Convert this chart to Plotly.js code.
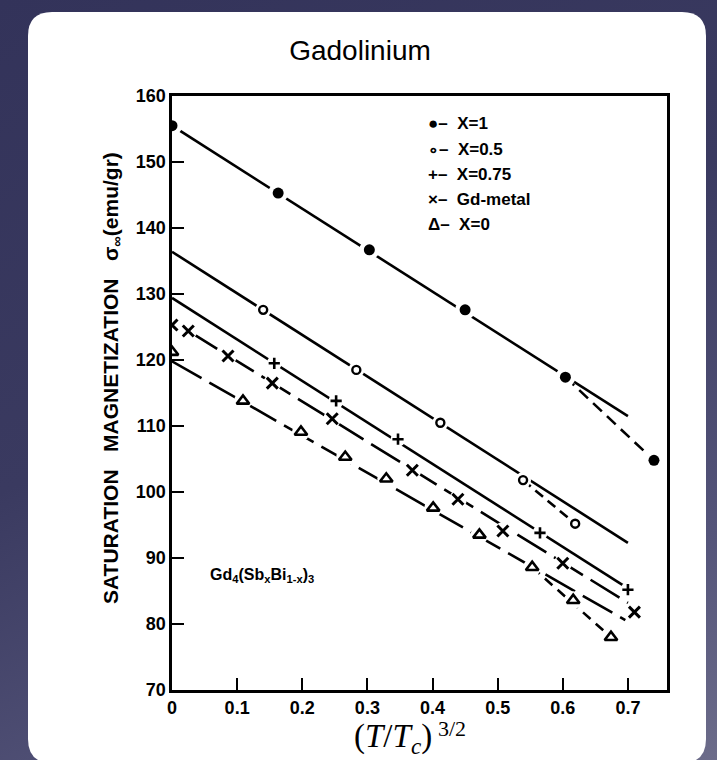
<!DOCTYPE html>
<html>
<head>
<meta charset="utf-8">
<script src="https://cdn.plot.ly/plotly-3.0.1.min.js"></script>
<style>
  html, body { margin: 0; padding: 0; }
  body { width: 717px; height: 760px; overflow: hidden;
         background: linear-gradient(155deg, #33335a 0%, #3a3a60 45%, #55557a 80%, #6c6c8a 100%); }
  #chart { width: 717px; height: 760px; }
</style>
</head>
<body>
<div id="chart"></div>
<script>
// ---- data ----
const xX1 = [0, 0.163, 0.303, 0.45, 0.604, 0.74];
const yX1 = [155.5, 145.3, 136.7, 127.6, 117.4, 104.8];

const xX05 = [0.14, 0.283, 0.412, 0.539, 0.619];
const yX05 = [127.6, 118.5, 110.5, 101.8, 95.2];

const xX075 = [0.157, 0.252, 0.347, 0.565, 0.70];
const yX075 = [119.5, 113.8, 108.0, 93.8, 85.2];

const xGd = [0, 0.025, 0.086, 0.154, 0.246, 0.369, 0.439, 0.508, 0.60, 0.71];
const yGd = [125.3, 124.4, 120.6, 116.5, 111.1, 103.3, 98.9, 94.1, 89.2, 81.8];

const xX0 = [0, 0.109, 0.198, 0.266, 0.329, 0.401, 0.472, 0.553, 0.616, 0.674];
const yX0 = [121.2, 113.8, 109.1, 105.3, 102.0, 97.6, 93.5, 88.6, 83.6, 78.0];

// fitted straight lines (end points)
const fitX1x = [0, 0.70],     fitX1y = [155.5, 111.5];
const fitX05x = [0, 0.70],    fitX05y = [136.4, 92.3];
const fitX075x = [0, 0.70],   fitX075y = [129.4, 85.4];
const fitGdx = [0.025, 0.70], fitGdy = [124.4, 83.2];
const fitX0x = [0, 0.696],    fitX0y = [119.8, 80.6];
// dashed high-temperature branches
const dashX1x = [0.604, 0.74],  dashX1y = [117.4, 104.8];
const dashX05x = [0.539, 0.619], dashX05y = [101.8, 95.2];
const dashX0x = [0.553, 0.674], dashX0y = [88.6, 78.0];

const xTickVals = [0, 0.1, 0.2, 0.3, 0.4, 0.5, 0.6, 0.7];
const xTickText = ['0', '0.1', '0.2', '0.3', '0.4', '0.5', '0.6', '0.7'];
const yTickVals = [70, 80, 90, 100, 110, 120, 130, 140, 150, 160];

const legendLabels = ['\u25CF\u2013  X=1', '\u2218\u2013  X=0.5', '+\u2013  X=0.75', '\u00D7\u2013  Gd-metal', '\u0394\u2013  X=0'];
const legendY = [155.9, 151.9, 148.1, 144.3, 140.5];

// ---- traces ----
const LW = 2.6;
function line(x, y, dash) {
  return {x: x, y: y, mode: 'lines', type: 'scatter', hoverinfo: 'skip', showlegend: false,
          line: {color: '#000', width: LW, dash: dash || 'solid'}};
}
function gap(x, y, s) {
  return {x: x, y: y, mode: 'markers', type: 'scatter', hoverinfo: 'skip', showlegend: false,
          marker: {color: '#fff', size: s, line: {width: 0}}};
}
function mk(x, y, symbol, size, lw, fill) {
  return {x: x, y: y, mode: 'markers', type: 'scatter', showlegend: false,
          marker: {symbol: symbol, size: size, color: fill || '#000', line: {color: '#000', width: lw}}};
}

const traces = [
  line(fitX1x, fitX1y), line(dashX1x, dashX1y, '12px,7px'),
  line(fitX05x, fitX05y), line(dashX05x, dashX05y, '10px,6px'),
  line(fitX075x, fitX075y),
  line(fitGdx, fitGdy, '34px,9px'),
  line(fitX0x, fitX0y, '34px,9px'), line(dashX0x, dashX0y, '10px,7px'),
  gap(xX1, yX1, 20), gap(xX05, yX05, 16), gap(xX075, yX075, 15), gap(xGd, yGd, 18), gap(xX0, yX0, 18),
  mk(xX1, yX1, 'circle', 11, 0),
  mk(xX05, yX05, 'circle-open', 8, 2.4),
  mk(xX075, yX075, 'cross-thin-open', 8, 2.6),
  mk(xGd, yGd, 'x-thin-open', 11, 3),
  mk(xX0, yX0, 'triangle-up-open', 11, 2.6)
];

const W = 717, H = 760, ML = 172, MR = 50, MT = 96, MB = 70;
const PW = W - ML - MR, PH = H - MT - MB;
const fx = px => (px - ML) / PW;
const fy = py => (H - MB - py) / PH;
// rounded white panel
const L = 28, R = 706, T = 12, B = 763, rad = 24;
const panelPath = [
  'M', fx(L + rad), fy(T), 'L', fx(R - rad), fy(T),
  'Q', fx(R), fy(T), fx(R), fy(T + rad),
  'L', fx(R), fy(B - rad),
  'Q', fx(R), fy(B), fx(R - rad), fy(B),
  'L', fx(L + rad), fy(B),
  'Q', fx(L), fy(B), fx(L), fy(B - rad),
  'L', fx(L), fy(T + rad),
  'Q', fx(L), fy(T), fx(L + rad), fy(T), 'Z'
].join(' ');

const annotations = legendLabels.map((t, i) => ({
  x: 0.39, y: legendY[i], xref: 'x', yref: 'y', xanchor: 'left', yanchor: 'middle',
  text: '<b>' + t + '</b>', showarrow: false,
  font: {family: 'Liberation Sans, Arial, sans-serif', size: 17, color: '#000'}
}));
annotations.push({
  x: 0.138, y: 87.3, xref: 'x', yref: 'y', xanchor: 'center', yanchor: 'middle', showarrow: false,
  text: '<b>Gd<sub>4</sub>(Sb<sub>x</sub>Bi<sub>1-x</sub>)<sub>3</sub></b>',
  font: {family: 'Liberation Sans, Arial, sans-serif', size: 16, color: '#000'}
});
annotations.push({
  x: fx(112), y: fy(378), xref: 'paper', yref: 'paper', xanchor: 'center', yanchor: 'middle',
  textangle: -90, showarrow: false,
  text: '<b>SATURATION   MAGNETIZATION   \u03C3<sub>\u221E</sub>(emu/gr)</b>',
  font: {family: 'Liberation Sans, Arial, sans-serif', size: 21, color: '#000'}
});
// x-axis title (T/Tc)^(3/2), base and exponent placed separately
annotations.push({
  x: fx(434), y: fy(738), xref: 'paper', yref: 'paper', xanchor: 'right', yanchor: 'middle',
  showarrow: false,
  text: '(<i>T</i>/<i>T</i><sub><i>c</i></sub>)',
  font: {family: 'Liberation Serif, DejaVu Serif, serif', size: 33, color: '#000'}
});
annotations.push({
  x: fx(436), y: fy(728), xref: 'paper', yref: 'paper', xanchor: 'left', yanchor: 'middle',
  showarrow: false,
  text: '3/2',
  font: {family: 'Liberation Serif, DejaVu Serif, serif', size: 22, color: '#000'}
});

const axisCommon = {
  showgrid: false, zeroline: false, showline: true, linecolor: '#000', linewidth: 2.6,
  mirror: true, ticks: 'inside', ticklen: 12, tickwidth: 2, tickcolor: '#000',
  tickfont: {family: 'Liberation Sans, Arial, sans-serif', size: 18, color: '#000', weight: 'bold'}
};

const layout = {
  width: W, height: H,
  margin: {l: ML, r: MR, t: MT, b: MB, pad: 0},
  paper_bgcolor: 'rgba(0,0,0,0)', plot_bgcolor: '#fff',
  showlegend: false,
  title: {text: 'Gadolinium', x: fx(360), xref: 'paper', xanchor: 'center',
          y: 1 - 50 / H, yref: 'container', yanchor: 'middle',
          font: {family: 'Liberation Sans, Arial, sans-serif', size: 28, color: '#000'}},
  xaxis: Object.assign({}, axisCommon, {range: [0, 0.76], tickvals: xTickVals, ticktext: xTickText}),
  yaxis: Object.assign({}, axisCommon, {range: [70, 160], tickvals: yTickVals}),
  shapes: [{type: 'path', xref: 'paper', yref: 'paper', layer: 'below', path: panelPath,
            fillcolor: '#fff', line: {width: 0}}],
  annotations: annotations
};

Plotly.newPlot('chart', traces, layout, {displayModeBar: false, staticPlot: true});
</script>
</body>
</html>
